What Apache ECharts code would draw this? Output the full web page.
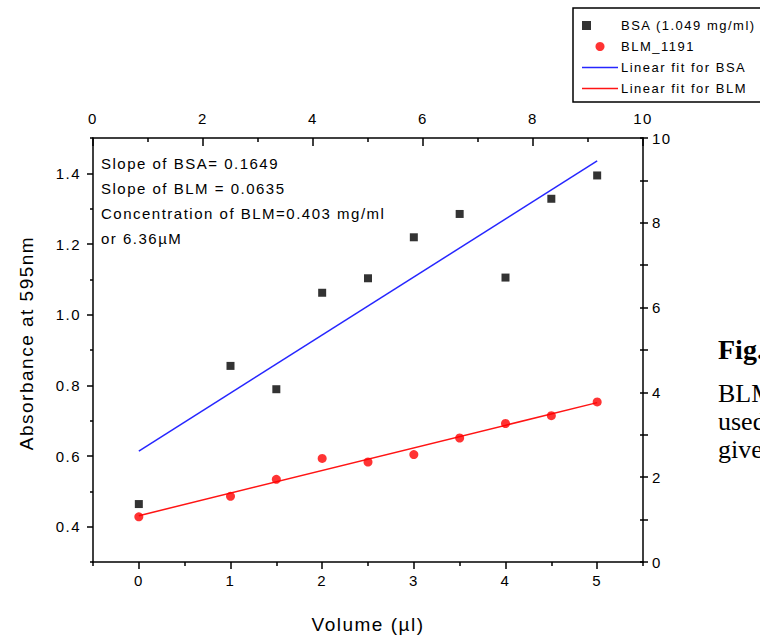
<!DOCTYPE html>
<html><head><meta charset="utf-8">
<script src="https://cdn.jsdelivr.net/npm/echarts@6/dist/echarts.min.js"></script>
<style>
html,body{margin:0;padding:0;background:#fff;overflow:hidden}
#chart{width:760px;height:639px}
#chart text{letter-spacing:1.5px}
#chart text[style*="Serif"],#chart text[font-family*="Serif"]{letter-spacing:0}
</style></head><body><div id="chart"></div>
<script>
const volumes = [0, 1, 1.5, 2, 2.5, 3, 3.5, 4, 4.5, 5];
const bsaValues = [0.464, 0.855, 0.789, 1.062, 1.103, 1.219, 1.285, 1.105, 1.328, 1.394];
const blmValues = [0.428, 0.486, 0.534, 0.593, 0.583, 0.604, 0.651, 0.692, 0.714, 0.753];
const fitVolumes = [0, 5];
const bsaFitValues = [0.614, 1.435];
const blmFitValues = [0.431, 0.751];
const leftMajorTicks = [0.4, 0.6, 0.8, 1.0, 1.2, 1.4];
const leftMinorTicks = [0.3, 0.5, 0.7, 0.9, 1.1, 1.3, 1.5];
const bottomMajorTicks = [0, 1, 2, 3, 4, 5];
const bottomMinorTicks = [-0.5, 0.5, 1.5, 2.5, 3.5, 4.5, 5.5];
const seriesNames = ['BSA (1.049 mg/ml)', 'BLM_1191', 'Linear fit for BSA', 'Linear fit for BLM'];
const annotationLines = ['Slope of BSA= 0.1649', 'Slope of BLM = 0.0635', 'Concentration of BLM=0.403 mg/ml', 'or 6.36\u00b5M'];
const captionLines = ['Fig.', 'BLM', 'used', 'given'];

const FONT = '"Liberation Sans", Arial, sans-serif';
const pairs = (xs, ys) => xs.map((x, i) => [x, ys[i]]);

const chart = echarts.init(document.getElementById('chart'), null, {renderer: 'svg'});

const axisLine = {show: true, onZero: false, lineStyle: {color: '#000', width: 1.5}};
const noLine = {show: false, onZero: false};
const tickLabel = {color: '#000', fontSize: 15, fontFamily: FONT};
const lineIcon = 'path://M0 0H36V1.5H0Z';

const annotY = [163, 188, 213, 238];
const captionY = [349, 393, 421, 449];

chart.setOption({
  animation: false,
  backgroundColor: '#fff',
  grid: {left: 93, right: 117, top: 138, bottom: 74},
  legend: {
    orient: 'vertical', left: 582, top: 19, padding: 0,
    itemWidth: 36, itemHeight: 9, itemGap: 8,
    selectedMode: false, symbolKeepAspect: true,
    data: [
      {name: seriesNames[0]},
      {name: seriesNames[1]},
      {name: seriesNames[2], icon: lineIcon},
      {name: seriesNames[3], icon: lineIcon}
    ],
    textStyle: {color: '#000', fontSize: 13, fontFamily: FONT, padding: [0, 0, 0, -2]}
  },
  xAxis: [
    {type: 'value', position: 'bottom', min: -0.5, max: 5.5,
     name: 'Volume (\u00b5l)', nameLocation: 'middle', nameGap: 53,
     nameTextStyle: {color: '#000', fontSize: 19, fontFamily: FONT},
     axisLine: axisLine,
     axisTick: {show: true, length: 7, lineStyle: {color: '#000', width: 1.5}, customValues: bottomMajorTicks},
     axisLabel: Object.assign({margin: 11, customValues: bottomMajorTicks}, tickLabel),
     splitLine: {show: false}},
    {type: 'value', position: 'top', min: 0, max: 10, interval: 2,
     axisLine: axisLine,
     axisTick: {show: true, inside: true, length: 8, lineStyle: {color: '#000', width: 1.5}},
     minorTick: {show: true, splitNumber: 2, length: 4, lineStyle: {color: '#000', width: 1.5}},
     axisLabel: Object.assign({margin: 12}, tickLabel),
     splitLine: {show: false}},
    {type: 'value', position: 'bottom', min: -0.5, max: 5.5,
     axisLine: noLine,
     axisTick: {show: true, length: 4, lineStyle: {color: '#000', width: 1.5}, customValues: bottomMinorTicks},
     axisLabel: {show: false, customValues: bottomMinorTicks},
     splitLine: {show: false}}
  ],
  yAxis: [
    {type: 'value', position: 'left', min: 0.3, max: 1.5,
     name: 'Absorbance at 595nm', nameLocation: 'middle', nameGap: 57,
     nameTextStyle: {color: '#000', fontSize: 19, fontFamily: FONT, padding: [0, 0, 0, 14]},
     axisLine: axisLine,
     axisTick: {show: true, length: 6, lineStyle: {color: '#000', width: 1.5}, customValues: leftMajorTicks},
     axisLabel: Object.assign({margin: 12, customValues: leftMajorTicks, formatter: v => v.toFixed(1)}, tickLabel),
     splitLine: {show: false}},
    {type: 'value', position: 'left', min: 0.3, max: 1.5,
     axisLine: noLine,
     axisTick: {show: true, length: 3, lineStyle: {color: '#000', width: 1.5}, customValues: leftMinorTicks},
     axisLabel: {show: false, customValues: leftMinorTicks},
     splitLine: {show: false}},
    {type: 'value', position: 'right', min: 0, max: 10, interval: 2,
     axisLine: axisLine,
     axisTick: {show: true, length: 5, lineStyle: {color: '#000', width: 1.5}},
     minorTick: {show: true, splitNumber: 2, length: 5, lineStyle: {color: '#000', width: 1.5}},
     axisLabel: Object.assign({margin: 9}, tickLabel),
     splitLine: {show: false}},
    {type: 'value', position: 'right', min: 0, max: 10, interval: 2,
     axisLine: noLine,
     axisTick: {show: true, inside: true, length: 3, lineStyle: {color: '#000', width: 1.5}},
     minorTick: {show: true, splitNumber: 2, length: 3, lineStyle: {color: '#000', width: 1.5}},
     axisLabel: {show: false},
     splitLine: {show: false}}
  ],
  series: [
    {name: seriesNames[0], type: 'scatter', xAxisIndex: 0, yAxisIndex: 0, z: 4,
     symbol: 'square', symbolSize: 8, itemStyle: {color: '#000'},
     data: pairs(volumes, bsaValues)},
    {name: seriesNames[1], type: 'scatter', xAxisIndex: 0, yAxisIndex: 0, z: 4,
     symbol: 'circle', symbolSize: 9, itemStyle: {color: '#ff0000'},
     data: pairs(volumes, blmValues)},
    {name: seriesNames[2], type: 'line', xAxisIndex: 0, yAxisIndex: 0, z: 3,
     symbol: 'none', showSymbol: false, lineStyle: {color: '#2626ff', width: 1.5}, itemStyle: {color: '#2626ff'},
     data: pairs(fitVolumes, bsaFitValues)},
    {name: seriesNames[3], type: 'line', xAxisIndex: 0, yAxisIndex: 0, z: 3,
     symbol: 'none', showSymbol: false, lineStyle: {color: '#ff1414', width: 1.5}, itemStyle: {color: '#ff1414'},
     data: pairs(fitVolumes, blmFitValues)}
  ],
  graphic: [
    {type: 'rect', shape: {x: 573, y: 8, width: 230, height: 94}, style: {fill: 'none', stroke: '#000', lineWidth: 1.5}, silent: true}
  ].concat(annotationLines.map((t, i) => ({
    type: 'text', x: 101, y: annotY[i], silent: true,
    style: {text: t, fill: '#000', font: '15px ' + FONT, verticalAlign: 'middle'}
  }))).concat(captionLines.map((t, i) => ({
    type: 'text', x: 718, y: captionY[i], silent: true,
    style: {text: t, fill: '#000', font: (i === 0 ? 'bold 28px' : '26px') + ' "Liberation Serif", serif', verticalAlign: 'middle'}
  })))
});
</script></body></html>
